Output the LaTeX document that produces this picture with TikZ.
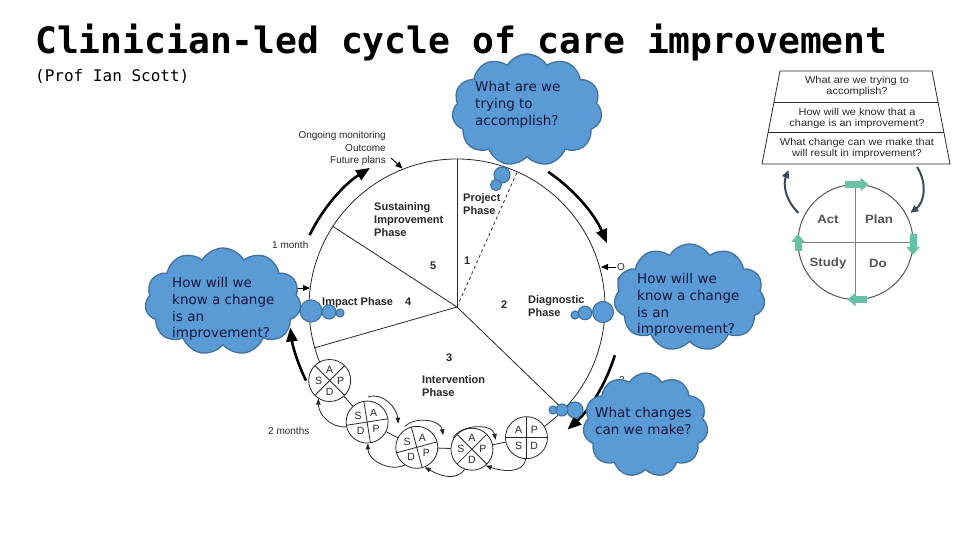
\documentclass[tikz,border=0pt]{standalone}
\usepackage{fontspec}
\setmainfont{Liberation Sans}
\newfontfamily\titlefont{DejaVu Sans Mono}
\newfontfamily\cloudfont{DejaVu Sans}
\newfontfamily\insetfont[FakeStretch=1.1]{Liberation Sans}
\usetikzlibrary{shapes.symbols,arrows.meta,calc}
\definecolor{cloudfill}{RGB}{91,155,213}
\definecolor{cloudline}{RGB}{65,113,156}
\definecolor{cloudtext}{RGB}{20,22,60}
\definecolor{ink}{RGB}{40,40,40}
\definecolor{insetgray}{RGB}{85,85,85}
\definecolor{pdsagreen}{RGB}{102,194,164}
\definecolor{slate}{RGB}{60,74,87}
\begin{document}
\begin{tikzpicture}[x=1pt,y=1pt,
  cloudbox/.style={cloud, cloud puffs=11, cloud puff arc=120, cloud ignores aspect, draw=cloudline, fill=cloudfill, line width=1.3pt, inner sep=0pt},
  bubble/.style={circle, draw=cloudline, fill=cloudfill, line width=1.1pt, inner sep=0pt},
  cloudtxt/.style={font=\cloudfont\fontsize{13.5}{16.6}\selectfont, text=cloudtext, align=left, anchor=base west, inner sep=0pt},
  lbl/.style={font=\fontsize{10}{12.5}\selectfont, text=ink, inner sep=0pt},
  blbl/.style={font=\bfseries\fontsize{11}{13}\selectfont, text=ink, inner sep=0pt, align=left, anchor=base west},
  pdsa/.style={circle, draw=ink, line width=0.8pt, minimum size=42pt, inner sep=0pt},
  pl/.style={font=\fontsize{10.5}{12}\selectfont, text=ink, inner sep=0pt},
  rim/.style={draw=ink, line width=0.8pt},
  bigarr/.style={draw=black, line width=2.6pt, -{Triangle[length=14pt,width=11pt]}},
  tickarr/.style={draw=black, line width=0.9pt, -{Triangle[length=7pt,width=6pt]}},
  chainarr/.style={draw=ink, line width=0.8pt, -{Triangle[length=6pt,width=4.5pt]}},
  insettxt/.style={font=\insetfont\fontsize{10}{11.5}\selectfont, text=ink, align=center, anchor=base, inner sep=0pt},
  insetlbl/.style={font=\insetfont\bfseries\fontsize{12}{14}\selectfont, text=insetgray, inner sep=0pt},
  greenarr/.style={draw=pdsagreen, line width=7pt, -{Triangle[length=8pt,width=13pt]}},
  slatearr/.style={draw=slate, line width=2pt, -{Triangle[length=8pt,width=7pt]}}
]
\useasboundingbox (0,0) rectangle (960,540);
\fill[white] (0,0) rectangle (960,540);

% title
\node[anchor=base west, inner sep=0pt, font=\titlefont\bfseries\fontsize{36.3}{40}\selectfont] (title) at (35,486) {Clinician-led cycle of care improvement};
\node[anchor=base west, inner sep=0pt, font=\titlefont\fontsize{16}{18}\selectfont] (subtitle) at (35,458) {(Prof Ian Scott)};

% main cycle
\coordinate (C) at (457,233);
\draw[rim] ($(C)+(-53.8:148)$) arc[start angle=-53.8, end angle=201.8, radius=148];
\draw[rim] (C) -- ($(C)+(90:148)$);
\draw[rim, dashed] (C) -- ($(C)+(66:148)$);
\draw[rim] (C) -- ($(C)+(147:148)$);
\draw[rim] (C) -- ($(C)+(196:148)$);
\draw[rim] (C) -- ($(C)+(-44:148)$);

% PDSA chain
\node[pdsa] (p1) at ($(C)+(210:147)$) {};
\node[pdsa] (p2) at ($(C)+(232:146)$) {};
\node[pdsa] (p3) at ($(C)+(254:146)$) {};
\node[pdsa] (p4) at ($(C)+(276:143)$) {};
\node[pdsa] (p5) at ($(C)+(298:148)$) {};
\draw[rim] (p1) -- (p2);
\draw[rim] (p2) -- (p3);
\draw[rim] (p3) -- (p4);
\draw[rim] (p4) -- (p5);
\foreach \n/\r in {p1/45,p2/9,p3/15,p4/45} {
  \draw[rim] ($(\n)+(\r:21)$) -- ($(\n)+(\r+180:21)$);
  \draw[rim] ($(\n)+(\r+90:21)$) -- ($(\n)+(\r+270:21)$);
  \node[pl] (\n-A) at ($(\n)+(\r+45:11)$) {A};
  \node[pl] (\n-S) at ($(\n)+(\r+135:11)$) {S};
  \node[pl] (\n-D) at ($(\n)+(\r+225:11)$) {D};
  \node[pl] (\n-P) at ($(\n)+(\r+315:11)$) {P};
}
\draw[rim] ($(p5)+(0:21)$) -- ($(p5)+(180:21)$);
\draw[rim] ($(p5)+(90:21)$) -- ($(p5)+(270:21)$);
\node[pl] (p5-A) at ($(p5)+(135:11)$) {A};
\node[pl] (p5-P) at ($(p5)+(45:11)$) {P};
\node[pl] (p5-S) at ($(p5)+(225:11)$) {S};
\node[pl] (p5-D) at ($(p5)+(315:11)$) {D};

% chain arrows below
\draw[chainarr] (p2.193) to[out=185,in=-90] (p1.238);
\draw[chainarr] (p3.236) to[out=205,in=-90] (p2.272);
\draw[chainarr] (p4.250) to[out=235,in=-30] (p3.292);
\draw[chainarr] (p5.268) to[out=260,in=-20] (p4.-50);
% chain arrows above
\draw[chainarr] ($(p2)+(88:25)$) to[out=20,in=95] ($(p3)+(128:30)$);
\draw[chainarr] ($(p3)+(120:24)$) to[out=45,in=100] ($(p4)+(154:32)$);
\draw[chainarr] ($(p4)+(150:22)$) to[out=60,in=100] ($(p5)+(184:31)$);

% big flow arrows
\draw[bigarr] ($(C)+(154:164)$) arc[start angle=154, end angle=122, radius=164];
\draw[bigarr] ($(C)+(56:163)$) arc[start angle=56, end angle=23, radius=163];
\draw[bigarr] ($(C)+(-17:165)$) arc[start angle=-17, end angle=-48, radius=165];
\draw[bigarr] ($(C)+(206:168)$) arc[start angle=206, end angle=187, radius=168];

% small entry arrows
\coordinate (fpS) at (391,382);
\coordinate (fpE) at (402.5,371.5);
\draw[tickarr] (fpS) -- (fpE);
\coordinate (lS) at (295,252);
\coordinate (lE) at (310,252);
\draw[tickarr] (lS) -- (lE);
\coordinate (rS) at (616,273);
\coordinate (rE) at (601,273);
\draw[tickarr] (rS) -- (rE);

% labels of the cycle (base anchor = baseline of the last line)
\node[lbl, align=right, anchor=base east] (ongoing) at (386,376) {Ongoing monitoring\\Outcome\\Future plans};
\node[lbl, anchor=base west] (m1) at (272,291) {1 month};
\node[lbl, anchor=base west] (m2) at (268,105) {2 months};
\node[blbl] (sust) at (374,303) {Sustaining\\Improvement\\Phase};
\node[blbl, font=\bfseries\fontsize{11}{12.5}\selectfont] (proj) at (463,325.5) {Project\\Phase};
\node[blbl] (n5) at (430,270) {5};
\node[blbl] (n1) at (464,275) {1};
\node[blbl] (impact) at (322,234) {Impact Phase};
\node[blbl] (n4) at (405,234) {4};
\node[blbl] (n2) at (501,231) {2};
\node[blbl] (diag) at (528,223) {Diagnostic\\Phase};
\node[blbl] (n3) at (446,178) {3};
\node[blbl] (interv) at (422,143) {Intervention\\Phase};
\node[lbl, anchor=base west, align=left] (hidO) at (617,256.5) {O\\O};
\node[lbl, anchor=base west] (hid2) at (619,156) {2};

% clouds
\node[bubble, minimum size=16pt] (b1a) at (502,365) {};
\node[bubble, minimum size=11pt] (b1b) at (496,355) {};
\node[cloudbox, minimum width=150pt, minimum height=112pt] (cl1) at (527,430) {};
\node[cloudtxt] (t1) at (475,414.8) {What are we\\trying to\\accomplish?};

\node[bubble, minimum size=22pt] (b2a) at (311,229) {};
\node[bubble, minimum size=14pt] (b2b) at (329,228) {};
\node[bubble, minimum size=8pt] (b2c) at (340,227) {};
\node[cloudbox, minimum width=156pt, minimum height=107pt] (cl2) at (223,238.5) {};
\node[cloudtxt] (t2) at (172,202.2) {How will we\\know a change\\is an\\improvement?};

\node[bubble, minimum size=21pt] (b3a) at (603,228) {};
\node[bubble, minimum size=13.5pt] (b3b) at (585,227) {};
\node[bubble, minimum size=8pt] (b3c) at (575,225) {};
\node[cloudbox, minimum width=151pt, minimum height=107pt] (cl3) at (689.5,242.5) {};
\node[cloudtxt] (t3) at (637,206.2) {How will we\\know a change\\is an\\improvement?};

\node[bubble, minimum size=16pt] (b4a) at (575,130) {};
\node[bubble, minimum size=12pt] (b4b) at (562,130) {};
\node[bubble, minimum size=8pt] (b4c) at (553,130) {};
\node[cloudbox, minimum width=125pt, minimum height=104pt] (cl4) at (645.5,115) {};
\node[cloudtxt] (t4) at (595,105.4) {What changes\\can we make?};

% inset: model for improvement
\coordinate (tA) at (780,469);
\coordinate (tB) at (932,469);
\coordinate (tC) at (950,376);
\coordinate (tD) at (762,376);
\draw[draw=ink, line width=0.8pt, fill=white] (tA) -- (tB) -- (tC) -- (tD) -- cycle;
\draw[draw=ink, line width=0.6pt] (774,438) -- (938,438);
\draw[draw=ink, line width=0.6pt] (768.2,408) -- (943.8,408);
\node[insettxt] (q1) at (857,445) {What are we trying to\\accomplish?};
\node[insettxt] (q2) at (857,413) {How will we know that a\\change is an improvement?};
\node[insettxt] (q3) at (857,383) {What change can we make that\\will result in improvement?};

\node[circle, draw=insetgray, line width=1pt, minimum size=115pt, inner sep=0pt] (cyc) at (855.5,298) {};
\draw[draw=gray, line width=0.8pt] (cyc.north) -- (cyc.south);
\draw[draw=gray, line width=0.8pt] (cyc.west) -- (cyc.east);
\node[insetlbl] (act) at (828,321) {Act};
\node[insetlbl] (plan) at (879,321) {Plan};
\node[insetlbl] (study) at (828,277) {Study};
\node[insetlbl] (do) at (878,277) {Do};
\draw[greenarr] ($(cyc)+(-11,57.5)$) -- ($(cyc)+(13,57.5)$);
\draw[greenarr] ($(cyc)+(57.5,8)$) -- ($(cyc)+(57.5,-13)$);
\draw[greenarr] ($(cyc)+(11,-57.5)$) -- ($(cyc)+(-8,-57.5)$);
\draw[greenarr] ($(cyc)+(-57.5,-9)$) -- ($(cyc)+(-57.5,8)$);

\coordinate (lup) at (788.5,370);
\coordinate (rdn) at (917,373);
\draw[slatearr] ($(cyc)+(153:64)$) .. controls (785,340) and (783,356) .. (lup);
\draw[slatearr] (rdn) .. controls (927,358) and (925,338) .. ($(cyc)+(28:62)$);
\end{tikzpicture}
\end{document}
